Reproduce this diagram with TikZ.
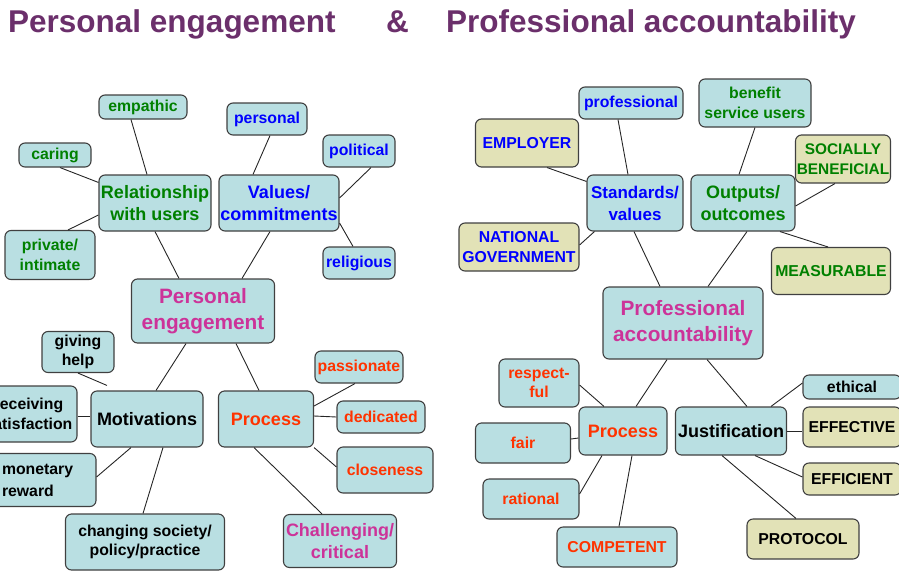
\documentclass[tikz,border=0pt]{standalone}
\usepackage{fontspec}
\setmainfont{Liberation Sans}
\usepackage{tikz}
\tikzset{>=stealth}

\definecolor{boxfill}{RGB}{185,223,226}
\definecolor{tanfill}{RGB}{226,226,183}
\definecolor{boxline}{RGB}{64,64,64}
\definecolor{grn}{RGB}{0,128,0}
\definecolor{blu}{RGB}{0,0,255}
\definecolor{mag}{RGB}{204,51,153}
\definecolor{org}{RGB}{255,51,0}
\definecolor{ttl}{RGB}{107,47,107}

\tikzset{
  box/.style={draw=boxline, fill=boxfill, line width=1.1pt, rounded corners=6pt,
    inner sep=0pt, align=center},
  tanbox/.style={box, fill=tanfill},
  leaf/.style={box, font=\fontsize{15.8}{19.5}\selectfont\bfseries},
  tanleaf/.style={tanbox, font=\fontsize{15.8}{19.5}\selectfont\bfseries},
  mid/.style={box, font=\fontsize{18}{22}\selectfont\bfseries},
  hub/.style={box, font=\fontsize{20.8}{25.5}\selectfont\bfseries},
  link/.style={draw=black!85, line width=0.9pt},
  heading/.style={text=ttl, font=\fontsize{31.5}{36}\selectfont\bfseries,
    inner sep=0pt, anchor=base west}
}

\begin{document}
\begin{tikzpicture}[x=1pt,y=-1pt]
    \clip (0,0) rectangle (899,579);

    % headings
    \node[heading] (head1) at (8,32) {Personal engagement};
    \node[heading] (headamp) at (386,32) {\&};
    \node[heading] (head2) at (446,32) {Professional accountability};

    % personal engagement map
    \node[hub, minimum width=143, minimum height=64, text=mag] (pe) at (203,311) {Personal\\engagement};
    \node[mid, minimum width=112, minimum height=56, text=grn] (rel) at (155,203) {Relationship\\with users};
    \node[mid, minimum width=120, minimum height=56, text=blu] (values) at (279,203) {Values/\\commitments};
    \node[mid, minimum width=112, minimum height=56] (mot) at (147,419) {Motivations};
    \node[mid, minimum width=95, minimum height=56, text=org] (proc1) at (266,419) {Process};
    \node[mid, minimum width=113, minimum height=53, text=mag] (chall) at (340,541) {Challenging/\\critical};

    \node[leaf, minimum width=88, minimum height=24, text=grn] (empathic) at (143,107) {empathic};
    \node[leaf, minimum width=72, minimum height=24, text=grn] (caring) at (55,155) {caring};
    \node[leaf, minimum width=90, minimum height=49, text=grn] (private) at (50,255) {private/\\intimate};
    \node[leaf, minimum width=80, minimum height=32, text=blu] (personal) at (267,119) {personal};
    \node[leaf, minimum width=72, minimum height=32, text=blu] (political) at (359,151) {political};
    \node[leaf, minimum width=72, minimum height=32, text=blu] (religious) at (359,263) {religious};
    \node[leaf, minimum width=72, minimum height=41] (giving) at (78,352) {giving\\help};
    \node[leaf, minimum width=97, minimum height=56] (receiving) at (28.5,414) {receiving\\satisfaction};
    \node[leaf, minimum width=115, minimum height=53, text width=73, align=left,
      font=\fontsize{15.8}{22}\selectfont\bfseries] (monetary) at (38.5,480) {monetary\\reward};
    \node[leaf, minimum width=159, minimum height=56] (changing) at (145,542) {changing society/\\policy/practice};
    \node[leaf, minimum width=88, minimum height=32, text=org] (passionate) at (359,367) {passionate};
    \node[leaf, minimum width=88, minimum height=32, text=org] (dedicated) at (381,417) {dedicated};
    \node[leaf, minimum width=96, minimum height=46, text=org] (closeness) at (385,470) {closeness};

    \draw[link] ([xshift=-12]empathic.south) -- ([xshift=-8]rel.north);
    \draw[link] ([xshift=5]caring.south) -- ([yshift=-8]rel.north west);
    \draw[link] ([xshift=18]private.north) -- ([yshift=-12]rel.west);
    \draw[link] (rel.south) -- ([xshift=-24]pe.north);
    \draw[link] ([xshift=3]personal.south) -- ([xshift=-26]values.north);
    \draw[link] ([xshift=12]political.south) -- ([yshift=5]values.east);
    \draw[link] ([yshift=-20]values.east) -- ([xshift=-6]religious.north);
    \draw[link] ([xshift=-9]values.south) -- ([xshift=39]pe.north);
    \draw[link] ([xshift=-17]pe.south) -- ([xshift=9]mot.north);
    \draw[link] ([xshift=33]pe.south) -- ([xshift=-7]proc1.north);
    \draw[link] (giving.south) -- ([xshift=-40,yshift=5]mot.north);
    \draw[link] ([yshift=-2]receiving.east) -- ([yshift=3]mot.west);
    \draw[link] ([yshift=3]monetary.east) -- ([xshift=-16]mot.south);
    \draw[link] ([xshift=-2]changing.north) -- ([xshift=16]mot.south);
    \draw[link] ([yshift=13]proc1.east) -- ([xshift=-4]passionate.south);
    \draw[link] ([yshift=3]proc1.east) -- (dedicated.west);
    \draw[link] (proc1.south east) -- ([yshift=3]closeness.west);
    \draw[link] ([xshift=-12]proc1.south) -- ([xshift=-18]chall.north);

    % professional accountability map
    \node[hub, minimum width=160, minimum height=72, text=mag] (pa) at (683,323) {Professional\\accountability};
    \node[mid, minimum width=96, minimum height=56, text=blu,
      font=\fontsize{17}{22}\selectfont\bfseries] (stand) at (635,203) {Standards/\\values};
    \node[mid, minimum width=104, minimum height=56, text=grn] (outputs) at (743,203) {Outputs/\\outcomes};
    \node[mid, minimum width=88, minimum height=48, text=org] (proc2) at (623,431) {Process};
    \node[mid, minimum width=111, minimum height=48] (just) at (731,431) {Justification};

    \node[leaf, minimum width=104, minimum height=32, text=blu] (professional) at (631,103) {professional};
    \node[tanleaf, minimum width=103, minimum height=48, text=blu] (employer) at (527,143) {EMPLOYER};
    \node[tanleaf, minimum width=120, minimum height=48, text=blu] (natgov) at (519,247) {NATIONAL\\GOVERNMENT};
    \node[leaf, minimum width=112, minimum height=48, text=grn] (benefit) at (755,103) {benefit\\service users};
    \node[tanleaf, minimum width=95, minimum height=48, text=grn,
      font=\fontsize{15.4}{19.5}\selectfont\bfseries] (social) at (843,159) {SOCIALLY\\BENEFICIAL};
    \node[tanleaf, minimum width=119, minimum height=47, text=grn] (measurable) at (831,271) {MEASURABLE};
    \node[leaf, minimum width=80, minimum height=48, text=org] (respectful) at (539,383) {respect-\\ful};
    \node[leaf, minimum width=95, minimum height=40, text=org] (fair) at (523,443) {fair};
    \node[leaf, minimum width=96, minimum height=40, text=org] (rational) at (531,499) {rational};
    \node[leaf, minimum width=120, minimum height=40, text=org] (competent) at (617,547) {COMPETENT};
    \node[leaf, minimum width=98, minimum height=24] (ethical) at (852,387) {ethical};
    \node[tanleaf, minimum width=98, minimum height=40] (effective) at (852,427) {EFFECTIVE};
    \node[tanleaf, minimum width=98, minimum height=32] (efficient) at (852,479) {EFFICIENT};
    \node[tanleaf, minimum width=112, minimum height=40] (protocol) at (803,539) {PROTOCOL};

    \draw[link] ([xshift=20]employer.south) -- ([yshift=-7]stand.north west);
    \draw[link] ([yshift=2]natgov.east) -- ([xshift=8]stand.south west);
    \draw[link] ([xshift=-13]professional.south) -- ([xshift=-7]stand.north);
    \draw[link] ([xshift=-1]stand.south) -- ([xshift=-23]pa.north);
    \draw[link] (benefit.south) -- ([xshift=-4]outputs.north);
    \draw[link] ([xshift=-8]social.south) -- ([yshift=-3]outputs.east);
    \draw[link] ([xshift=37]outputs.south) -- ([xshift=-3]measurable.north);
    \draw[link] ([xshift=4]outputs.south) -- ([xshift=25]pa.north);
    \draw[link] ([xshift=-16]pa.south) -- ([xshift=13]proc2.north);
    \draw[link] ([xshift=24]pa.south) -- ([xshift=16]just.north);
    \draw[link] ([yshift=-2]respectful.east) -- ([xshift=-19]proc2.north);
    \draw[link] ([yshift=4]fair.east) -- ([yshift=-7]proc2.west);
    \draw[link] ([yshift=5]rational.east) -- ([xshift=-21]proc2.south);
    \draw[link] ([xshift=2]competent.north) -- ([xshift=9]proc2.south);
    \draw[link] ([xshift=40]just.north) -- ([yshift=4]ethical.west);
    \draw[link] (just.east) -- ([yshift=-4]effective.west);
    \draw[link] ([xshift=24]just.south) -- ([yshift=2]efficient.west);
    \draw[link] ([xshift=-9]just.south) -- ([xshift=-7]protocol.north);
\end{tikzpicture}
\end{document}
